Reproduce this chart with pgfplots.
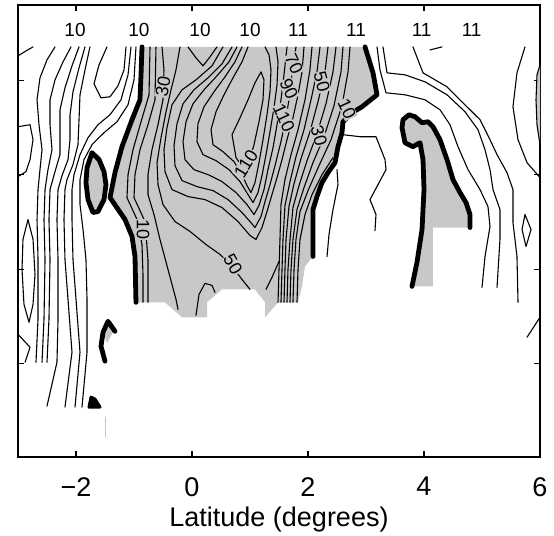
\documentclass[border=0pt]{standalone}
\usepackage{fontspec}
\setmainfont{Liberation Sans}
\usepackage{pgfplots}
\pgfplotsset{compat=1.18}
\definecolor{shade}{RGB}{200,200,200}
\pgfplotsset{
  cl/.style={black, line width=0.55pt},
  tk/.style={black, line width=2.4pt},
  gf/.style={fill=shade, draw=none},
}
\tikzset{lab/.style={font=\fontsize{9}{10}\selectfont, fill=shade, inner sep=0.3pt},
         toplab/.style={font=\fontsize{9.5}{11}\selectfont, inner sep=0pt}}
\begin{document}
\begin{tikzpicture}
\begin{axis}[
  scale only axis, width=261pt, height=226pt,
  xmin=-3, xmax=6, ymin=0, ymax=453,
  xtick={-2,0,2,4,6}, xticklabels={−2,0,2,4,6},
  ytick={94,188,283,377}, yticklabels={},
  tick align=inside, major tick length=3pt,
  xticklabel style={font=\fontsize{13.5}{16}\selectfont, inner sep=1pt, yshift=-9pt},
  xlabel={Latitude (degrees)},
  xlabel style={font=\fontsize{13.5}{16}\selectfont, inner sep=1pt, at={(axis description cs:0.5,0)}, anchor=north, yshift=-24pt},
  axis line style={line width=0.7pt},
  every tick/.style={line width=0.6pt, black},
  no markers,
  every axis plot/.append style={line join=round, line cap=round},
]
% ---------- gray fills ----------
\addplot[gf] coordinates {(-0.862,411) (-0.879,383) (-0.897,358) (-1.034,338) (-1.207,311) (-1.328,285) (-1.414,260) (-1.155,238) (-1.034,221) (-0.983,201) (-0.966,155) (-0.466,155) (-0.172,140) (0.259,140) (0.259,155) (0.517,168) (1.086,168) (1.259,155) (1.259,140) (1.483,155) (1.828,155) (1.897,171) (1.948,191) (2.086,201) (2.086,248) (2.155,261) (2.241,275) (2.345,285) (2.466,295) (2.517,311) (2.586,325) (2.603,336) (2.759,345) (2.931,351) (3.190,363) (3.121,385) (2.983,411)} -- cycle;
\addplot[gf] coordinates {(-1.724,305) (-1.603,298) (-1.517,286) (-1.483,273) (-1.517,258) (-1.621,246) (-1.707,245) (-1.793,258) (-1.828,275) (-1.810,290)} -- cycle;
\addplot[gf] coordinates {(3.638,338) (3.741,343) (3.845,341) (3.966,335) (4.069,336) (4.155,331) (4.276,318) (4.397,298) (4.500,278) (4.621,265) (4.724,255) (4.793,243) (4.793,230) (4.155,230) (4.155,171) (3.793,171) (3.879,195) (3.966,228) (4.000,268) (3.983,298) (3.931,315) (3.810,311) (3.672,315) (3.621,330)} -- cycle;
\addplot[gf] coordinates {(6,393) (5.948,383) (5.931,358) (5.948,333) (6,313)} -- cycle;
\addplot[gf] coordinates {(-1.448,134) (-1.345,127) (-1.466,114) (-1.517,123)} -- cycle;
% ---------- thin contours: left white region ----------
\addplot[cl] coordinates {(-3,402) (-2.862,407) (-2.741,411)};
\addplot[cl] coordinates {(-2.362,411) (-2.5,398) (-2.621,380) (-2.672,358) (-2.638,333) (-2.586,308) (-2.621,288) (-2.655,268) (-2.672,238) (-2.655,198) (-2.655,138) (-2.690,95)};
\addplot[cl] coordinates {(-2.086,411) (-2.224,396) (-2.362,378) (-2.448,358) (-2.448,333) (-2.414,308) (-2.483,288) (-2.534,268) (-2.552,238) (-2.534,198) (-2.552,138) (-2.586,95)};
\addplot[cl] coordinates {(-1.948,411) (-2.069,392) (-2.190,370) (-2.276,348) (-2.276,323) (-2.276,303) (-2.362,286) (-2.448,268) (-2.466,238) (-2.448,198) (-2.466,138) (-2.5,95)};
\addplot[cl] coordinates {(-1.845,411) (-1.948,390) (-2.052,366) (-2.103,343) (-2.103,318) (-2.138,298) (-2.241,282) (-2.310,268) (-2.328,238) (-2.310,198) (-2.310,138) (-2.328,95) (-2.5,51)};
\addplot[cl] coordinates {(-1.759,411) (-1.845,388) (-1.931,363) (-1.948,338) (-1.966,313) (-2.052,293) (-2.155,278) (-2.190,268) (-2.207,238) (-2.190,198) (-2.138,158) (-2.069,105) (-2.190,50)};
\addplot[cl] coordinates {(-1.466,411) (-1.603,393) (-1.690,374) (-1.569,360) (-1.414,361) (-1.276,372) (-1.172,388) (-1.138,411)};
\addplot[cl] coordinates {(-1.052,411) (-1.103,383) (-1.224,358) (-1.414,343) (-1.621,333) (-1.793,320) (-1.931,303) (-2.034,283) (-2.069,268) (-2.069,238) (-2.052,198) (-2.0,158) (-1.931,105) (-2.017,50)};
\addplot[cl] coordinates {(-0.966,411) (-1.0,378) (-1.103,353) (-1.293,336) (-1.517,325) (-1.724,313) (-1.862,298) (-1.931,278) (-1.931,253) (-1.879,228) (-1.828,198) (-1.810,158) (-1.810,105) (-1.897,50)};
\addplot[cl] coordinates {(-2.828,238) (-2.741,218) (-2.707,183) (-2.741,153) (-2.810,135) (-2.897,153) (-2.931,188) (-2.914,218)} -- cycle;
\addplot[cl] coordinates {(-3,331) (-2.793,333) (-2.741,318) (-2.793,298) (-2.862,286) (-3,281)};
\addplot[cl] coordinates {(-3,123) (-2.793,110) (-2.879,95)};
\addplot[gray!45, line width=0.5pt] coordinates {(-1.5,40) (-1.5,20)};
% ---------- thin contours: inside main gray region ----------
\addplot[cl] coordinates {(-0.724,411) (-0.741,363) (-0.879,336) (-1.017,308) (-1.103,283) (-1.121,260) (-0.948,238) (-0.862,213) (-0.845,183) (-0.845,155)};
\addplot[cl] coordinates {(-0.621,411) (-0.638,358) (-0.759,333) (-0.897,308) (-0.983,283) (-1.0,260) (-0.810,236) (-0.759,198) (-0.759,155)};
\addplot[cl] coordinates {(-0.517,411) (-0.483,388) (-0.5,358) (-0.586,333) (-0.690,308) (-0.759,283) (-0.759,263) (-0.655,243) (-0.552,218) (-0.414,188) (-0.276,158) (-0.241,148)};
\addplot[cl] coordinates {(-0.207,411) (-0.276,388) (-0.362,368) (-0.448,346) (-0.534,320) (-0.603,295) (-0.586,273) (-0.5,253) (-0.293,236) (-0.034,226) (0.241,213) (0.483,203) (0.690,191) (0.862,178) (1.0,168)};
\addplot[cl] coordinates {(-0.069,411) (0.069,400) (0.190,392) (0.310,401) (0.431,411)};
\addplot[cl] coordinates {(0.534,411) (0.345,392) (0.069,378) (-0.172,368) (-0.345,353) (-0.431,330) (-0.483,308) (-0.466,286) (-0.345,268) (-0.069,261) (0.224,258) (0.517,250) (0.793,236) (1.0,222) (1.103,218) (1.207,230) (1.293,246) (1.379,263) (1.466,280) (1.552,298) (1.638,318) (1.741,340) (1.828,363) (1.897,386) (1.931,411)};
\addplot[cl] coordinates {(0.690,411) (0.517,394) (0.276,380) (0.034,368) (-0.155,354) (-0.259,334) (-0.310,312) (-0.293,292) (-0.172,277) (0.086,271) (0.362,267) (0.621,258) (0.862,245) (1.0,236) (1.086,230) (1.190,241) (1.259,256) (1.345,273) (1.431,292) (1.517,312) (1.603,334) (1.672,358) (1.724,383) (1.793,411)};
\addplot[cl] coordinates {(0.776,411) (0.638,396) (0.431,382) (0.207,368) (0.017,354) (-0.103,336) (-0.155,316) (-0.121,298) (0.034,288) (0.276,283) (0.517,276) (0.759,265) (0.948,253) (1.069,243) (1.155,252) (1.241,268) (1.310,288) (1.397,310) (1.466,333) (1.534,358) (1.586,383) (1.638,411)};
\addplot[cl] coordinates {(0.862,411) (0.741,396) (0.569,381) (0.379,366) (0.207,351) (0.103,334) (0.086,316) (0.190,303) (0.414,297) (0.638,288) (0.828,276) (0.966,263) (1.052,255) (1.138,265) (1.207,282) (1.276,303) (1.345,326) (1.414,350) (1.466,373) (1.483,396) (1.448,411)};
\addplot[cl] coordinates {(0.966,411) (0.862,396) (0.707,380) (0.552,363) (0.414,346) (0.328,328) (0.362,313) (0.534,306) (0.724,296) (0.862,283) (0.948,272) (1.017,265) (1.086,275) (1.155,295) (1.224,318) (1.293,343) (1.345,366) (1.362,388) (1.328,403) (1.259,411)};
\addplot[cl] coordinates {(0.690,323) (0.828,340) (0.966,358) (1.086,375) (1.190,386) (1.241,378) (1.224,358) (1.155,336) (1.069,313) (0.983,296) (0.879,290) (0.759,300)} -- cycle;
\addplot[cl] coordinates {(2.069,411) (2.034,388) (1.948,358) (1.828,328) (1.707,303) (1.603,278) (1.534,253) (1.517,218) (1.5,188) (1.483,155)};
\addplot[cl] coordinates {(2.207,411) (2.155,386) (2.052,358) (1.931,328) (1.793,301) (1.690,276) (1.603,252) (1.569,218) (1.552,188) (1.534,155)};
\addplot[cl] coordinates {(2.345,411) (2.293,386) (2.172,356) (2.034,326) (1.879,299) (1.759,274) (1.672,251) (1.621,218) (1.603,188) (1.586,155)};
\addplot[cl] coordinates {(2.483,411) (2.431,386) (2.310,354) (2.155,324) (1.983,297) (1.845,272) (1.741,250) (1.690,218) (1.655,188) (1.638,155)};
\addplot[cl] coordinates {(2.603,411) (2.569,386) (2.448,352) (2.276,321) (2.086,295) (1.931,270) (1.810,248) (1.741,218) (1.707,188) (1.690,155)};
\addplot[cl] coordinates {(2.724,411) (2.690,386) (2.586,352) (2.397,318) (2.190,292) (2.0,267) (1.862,246) (1.793,218) (1.759,188) (1.741,155)};
\addplot[cl] coordinates {(2.431,300) (2.241,283) (2.069,263) (1.948,243) (1.862,218) (1.828,188) (1.810,155)};
\addplot[cl] coordinates {(1.5,196) (1.379,180) (1.276,168)};
\addplot[cl] coordinates {(0.069,142) (0.121,163) (0.224,174) (0.345,172) (0.397,165)};
% ---------- thin contours: right white region ----------
\addplot[cl] coordinates {(2.603,323) (2.897,321) (3.172,321) (3.328,298) (3.345,288) (3.207,273) (3.069,258) (3.172,243) (3.155,227)};
\addplot[cl] coordinates {(2.5,288) (2.517,273) (2.431,248) (2.362,223) (2.328,201)};
\addplot[cl] coordinates {(3.190,411) (3.241,388) (3.345,365) (3.672,363) (4.017,358) (4.276,348) (4.448,333) (4.586,311) (4.759,288) (4.966,268) (5.103,251) (5.138,231) (5.052,201) (5.0,170)};
\addplot[cl] coordinates {(3.293,411) (3.362,385) (3.672,383) (4.017,376) (4.397,363) (4.707,346) (4.931,328) (5.052,308) (5.138,288) (5.190,268) (5.310,248) (5.310,218) (5.259,170)};
\addplot[cl] coordinates {(3.810,411) (3.983,385) (4.397,371) (4.741,351) (4.966,338) (5.138,318) (5.259,303) (5.431,285) (5.534,268) (5.534,235) (5.603,201) (5.621,155)};
\addplot[cl] coordinates {(5.741,411) (5.603,385) (5.534,351) (5.621,318) (5.776,295) (6.0,280)};
\addplot[cl] coordinates {(6,393) (5.948,383) (5.931,358) (5.948,333) (6,313)};
\addplot[cl] coordinates {(4.103,408) (4.310,411)};
\addplot[cl] coordinates {(5.741,243) (5.845,228) (5.759,211) (5.690,228)} -- cycle;
\addplot[cl] coordinates {(5.776,120) (6.0,140)};
% ---------- thick contours ----------
\addplot[tk] coordinates {(-0.862,411) (-0.879,383) (-0.897,358) (-1.034,338) (-1.207,311) (-1.328,285) (-1.414,260) (-1.155,238) (-1.034,221) (-0.983,201) (-0.966,155)};
\addplot[tk] coordinates {(2.983,411) (3.121,385) (3.190,363) (2.931,351) (2.759,345) (2.603,336) (2.586,325) (2.517,311) (2.466,295) (2.345,285) (2.241,275) (2.155,261) (2.086,248) (2.086,201)};
\addplot[tk] coordinates {(-1.724,305) (-1.603,298) (-1.517,286) (-1.483,273) (-1.517,258) (-1.621,246) (-1.707,245) (-1.793,258) (-1.828,275) (-1.810,290)} -- cycle;
\addplot[tk] coordinates {(4.793,230) (4.793,243) (4.724,255) (4.621,265) (4.500,278) (4.397,298) (4.276,318) (4.155,331) (4.069,336) (3.966,335) (3.845,341) (3.741,343) (3.638,338) (3.621,330) (3.672,315) (3.810,311) (3.931,315) (3.983,298) (4.000,268) (3.966,228) (3.879,195) (3.793,171)};
\addplot[tk] coordinates {(-1.328,126) (-1.448,136) (-1.534,125) (-1.569,111) (-1.5,96)};
\addplot[black, fill=black, line width=1.5pt] coordinates {(-1.776,50) (-1.741,60) (-1.672,58) (-1.586,50)} -- cycle;
% ---------- labels ----------
\node[toplab] at (axis cs:-2.017,428) {10};
\node[toplab] at (axis cs:-0.914,428) {10};
\node[toplab] at (axis cs:0.138,428) {10};
\node[toplab] at (axis cs:1.0,428) {10};
\node[toplab] at (axis cs:1.828,428) {11};
\node[toplab] at (axis cs:2.828,428) {11};
\node[toplab] at (axis cs:3.960,428) {11};
\node[toplab] at (axis cs:4.822,428) {11};
\node[lab, rotate=80] at (axis cs:-0.5,371) {30};
\node[lab, rotate=-90] at (axis cs:-0.845,228) {10};
\node[lab, rotate=-60] at (axis cs:0.707,193) {50};
\node[lab, rotate=58] at (axis cs:0.931,294) {110};
\node[lab, rotate=-65] at (axis cs:1.759,394) {70};
\node[lab, rotate=-65] at (axis cs:1.672,369) {90};
\node[lab, rotate=-65] at (axis cs:1.586,340) {110};
\node[lab, rotate=-75] at (axis cs:2.241,376) {50};
\node[lab, rotate=-65] at (axis cs:2.672,349) {10};
\node[lab, rotate=-75] at (axis cs:2.190,322) {30};
\end{axis}
\path (current axis.south west) ++(-9pt,-39pt) coordinate (bl);
\path (current axis.north east) ++(7pt,2.5pt) coordinate (tr);
\path (bl) rectangle (tr);
\end{tikzpicture}
\end{document}
